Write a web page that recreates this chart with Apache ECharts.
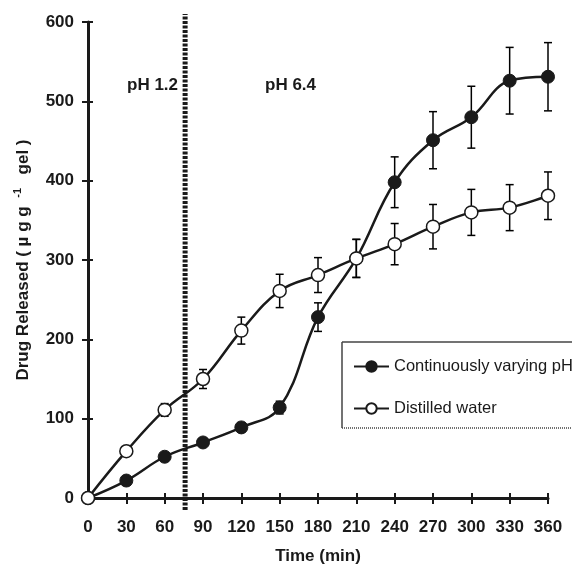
<!DOCTYPE html>
<html>
<head>
<meta charset="utf-8">
<script src="https://cdn.jsdelivr.net/npm/echarts@6/dist/echarts.min.js"></script>
<style>
  html, body { margin: 0; padding: 0; background: #fff; }
  #chart { width: 572px; height: 567px; }
</style>
</head>
<body>
<div id="chart"></div>
<script>
// time points (min)
const times = [0, 30, 60, 90, 120, 150, 180, 210, 240, 270, 300, 330, 360];
// continuously varying pH
const phValues = [0, 22, 52, 70, 89, 114, 228, 302, 398, 451, 480, 526, 531];
const phErrors = [0, 2, 3, 5, 6, 8, 18, 24, 32, 36, 39, 42, 43];
// distilled water
const waterValues = [0, 59, 111, 150, 211, 261, 281, 302, 320, 342, 360, 366, 381];
const waterErrors = [0, 3, 8, 12, 17, 21, 22, 24, 26, 28, 29, 29, 30];
// pH switch time and y extent of the dotted divider (axis units)
const phSwitch = 76;
const dividerSpan = [-15, 610];
const xTicks = { min: 0, max: 360, interval: 30 };
const yTicks = { min: 0, max: 600, interval: 100 };

const font = "Liberation Sans, Arial, sans-serif";
const chart = echarts.init(document.getElementById("chart"));

const pairs = (xs, ys) => xs.map((x, i) => [x, ys[i]]);
const errData = (xs, ys, es) => xs.map((x, i) => [x, ys[i] - es[i], ys[i] + es[i]]);

// error bars with caps
function errorBar(params, api) {
  const x = api.value(0);
  const lo = api.value(1);
  const hi = api.value(2);
  if (hi - lo <= 0) return null;
  const top = api.coord([x, hi]);
  const bot = api.coord([x, lo]);
  const cap = 4;
  const style = { stroke: "#000", lineWidth: 1.5 };
  return {
    type: "group",
    children: [
      { type: "line", shape: { x1: top[0], y1: top[1], x2: bot[0], y2: bot[1] }, style: style },
      { type: "line", shape: { x1: top[0] - cap, y1: top[1], x2: top[0] + cap, y2: top[1] }, style: style },
      { type: "line", shape: { x1: bot[0] - cap, y1: bot[1], x2: bot[0] + cap, y2: bot[1] }, style: style },
    ],
  };
}

const axisText = { color: "#1a1a1a", fontFamily: font, fontWeight: "bold", fontSize: 17 };

chart.setOption({
  animation: false,
  backgroundColor: "#fff",
  grid: { left: 88, right: 24, top: 22, bottom: 69, outerBoundsMode: "none" },
  xAxis: [
    {
      type: "value",
      min: xTicks.min, max: xTicks.max, interval: xTicks.interval,
      name: "Time (min)",
      nameLocation: "middle",
      nameGap: 50,
      nameTextStyle: axisText,
      axisLine: { lineStyle: { color: "#1a1a1a", width: 3 } },
      axisTick: { length: 6, lineStyle: { color: "#1a1a1a", width: 2 } },
      axisLabel: Object.assign({ margin: 21 }, axisText),
      splitLine: { show: false },
    },
    {
      type: "value",
      position: "bottom",
      min: xTicks.min, max: xTicks.max, interval: xTicks.interval,
      axisLine: { show: false },
      axisTick: { inside: true, length: 5, lineStyle: { color: "#1a1a1a", width: 2 } },
      axisLabel: { show: false },
      splitLine: { show: false },
    },
  ],
  yAxis: [
    {
      type: "value",
      min: yTicks.min, max: yTicks.max, interval: yTicks.interval,
      name: "{n|Drug Released ( µ g g }{s|-1}{n|  gel )}",
      nameLocation: "middle",
      nameGap: 54,
      nameTextStyle: {
        rich: {
          n: axisText,
          s: { color: "#1a1a1a", fontFamily: font, fontWeight: "bold", fontSize: 11, padding: [0, 4, 11, 4] },
        },
      },
      axisLine: { lineStyle: { color: "#1a1a1a", width: 3 } },
      axisTick: { length: 6, lineStyle: { color: "#1a1a1a", width: 2 } },
      axisLabel: Object.assign({ margin: 14 }, axisText),
      splitLine: { show: false },
    },
    {
      type: "value",
      position: "left",
      min: yTicks.min, max: yTicks.max, interval: yTicks.interval,
      axisLine: { show: false },
      axisTick: { inside: true, length: 5, lineStyle: { color: "#1a1a1a", width: 2 } },
      axisLabel: { show: false },
      splitLine: { show: false },
    },
  ],
  legend: {
    data: ["Continuously varying pH", "Distilled water"],
    orient: "vertical",
    left: 348,
    top: 353,
    itemWidth: 35,
    itemHeight: 13,
    itemGap: 25,
    textStyle: { color: "#1a1a1a", fontFamily: font, fontSize: 16.5 },
  },
  graphic: [
    // legend frame: solid top/left, dotted bottom, open to the right edge
    { type: "line", shape: { x1: 342, y1: 342, x2: 572, y2: 342 }, style: { stroke: "#444", lineWidth: 1.5 } },
    { type: "line", shape: { x1: 342, y1: 342, x2: 342, y2: 428 }, style: { stroke: "#444", lineWidth: 1.5 } },
    { type: "line", shape: { x1: 342, y1: 428, x2: 572, y2: 428 }, style: { stroke: "#444", lineWidth: 1.5, lineDash: [1, 1] } },
    { type: "text", left: 127, top: 77, style: { text: "pH 1.2", fill: "#1a1a1a", font: "bold 17px " + font } },
    { type: "text", left: 265, top: 77, style: { text: "pH 6.4", fill: "#1a1a1a", font: "bold 17px " + font } },
  ],
  series: [
    {
      name: "divider",
      type: "line",
      data: [[phSwitch, dividerSpan[0]], [phSwitch, dividerSpan[1]]],
      clip: false,
      showSymbol: false,
      silent: true,
      z: 1,
      lineStyle: { color: "#1a1a1a", width: 5, type: [3, 1.5] },
    },
    {
      name: "phErr",
      type: "custom",
      renderItem: errorBar,
      data: errData(times, phValues, phErrors),
      z: 2,
    },
    {
      name: "waterErr",
      type: "custom",
      renderItem: errorBar,
      data: errData(times, waterValues, waterErrors),
      z: 2,
    },
    {
      name: "Continuously varying pH",
      type: "line",
      data: pairs(times, phValues),
      smooth: 0.4,
      symbol: "circle",
      symbolSize: 13,
      z: 3,
      lineStyle: { color: "#1a1a1a", width: 2.5 },
      itemStyle: { color: "#1a1a1a", borderColor: "#1a1a1a", borderWidth: 1 },
    },
    {
      name: "Distilled water",
      type: "line",
      data: pairs(times, waterValues),
      smooth: 0.4,
      symbol: "circle",
      symbolSize: 13,
      z: 4,
      lineStyle: { color: "#1a1a1a", width: 2.5 },
      itemStyle: { color: "#fff", borderColor: "#1a1a1a", borderWidth: 1.5 },
    },
  ],
});
</script>
</body>
</html>
